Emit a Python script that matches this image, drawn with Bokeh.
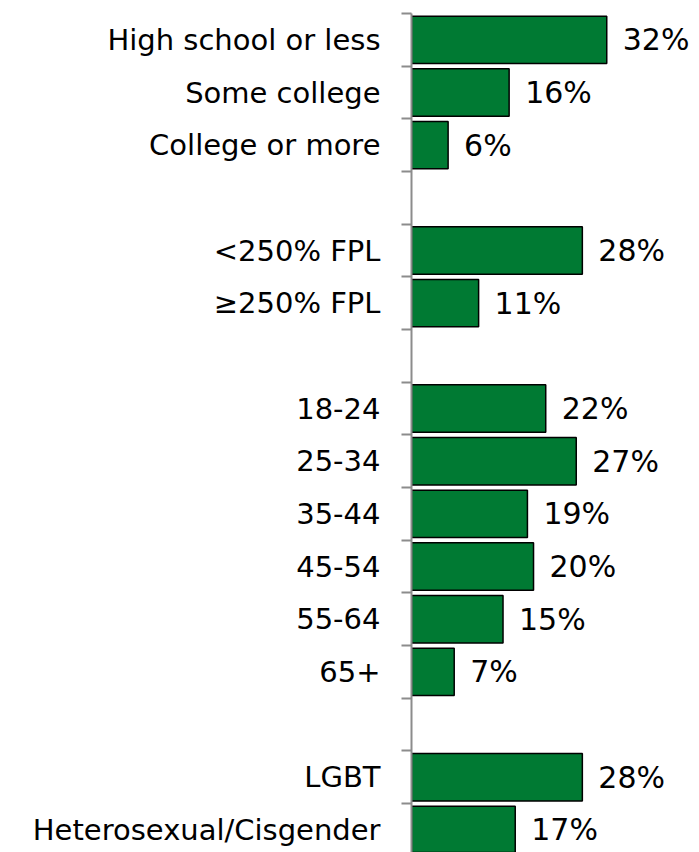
from bokeh.plotting import figure
from bokeh.models import Range1d, FixedTicker, ColumnDataSource
from bokeh.core.properties import value
from bokeh.embed import file_html
from bokeh.resources import INLINE

categories = ["High school or less", "Some college", "College or more",
              "<250% FPL", "\u2265250% FPL",
              "18-24", "25-34", "35-44", "45-54", "55-64", "65+",
              "LGBT", "Heterosexual/Cisgender"]
values = [32, 16, 6, 28, 11, 22, 27, 19, 20, 15, 7, 28, 17]
group_sizes = [3, 2, 6, 2]

# slot positions with one empty slot between groups
positions = []
slot = 0
for g, n in enumerate(group_sizes):
    for i in range(n):
        positions.append(slot)
        slot += 1
    slot += 1
n_slots = slot - 1
boundaries = [b - 0.5 for b in range(n_slots + 1)]

labels = [f"{v}%" for v in values]
src = ColumnDataSource(dict(y=positions, v=values, lab=labels, cat=categories))

FONT = "DejaVu Sans"
p = figure(width=699, height=852, output_backend="svg", toolbar_location=None,
           x_range=Range1d(0, 47.2), y_range=Range1d(n_slots - 0.57, -0.5),
           min_border_top=13, min_border_bottom=0, min_border_right=0, min_border_left=411)

p.hbar(y="y", right="v", left=0, height=0.9, source=src,
       fill_color="#007A33", line_color="#000000", line_width=1.5)
p.text(x="v", y="y", text="lab", source=src, x_offset=16,
       text_align="left", text_baseline="middle",
       text_font=value(FONT), text_font_size="30px", text_color="#000000")

p.xaxis.visible = False
p.xgrid.visible = False
p.ygrid.visible = False
p.outline_line_color = None

ax = p.yaxis[0]
ax.ticker = FixedTicker(ticks=positions, minor_ticks=boundaries)
ax.major_label_overrides = {pos: c for pos, c in zip(positions, categories)}
ax.major_tick_line_color = None
ax.major_tick_out = 0
ax.major_tick_in = 0
ax.minor_tick_line_color = "#8c8c8c"
ax.minor_tick_line_width = 2
ax.minor_tick_out = 10
ax.minor_tick_in = 0
ax.axis_line_color = "#8c8c8c"
ax.axis_line_width = 2
ax.major_label_standoff = 21
ax.major_label_text_font = FONT
ax.major_label_text_font_size = "29px"
ax.major_label_text_color = "#000000"

open("out.html", "w").write(file_html(p, INLINE))
